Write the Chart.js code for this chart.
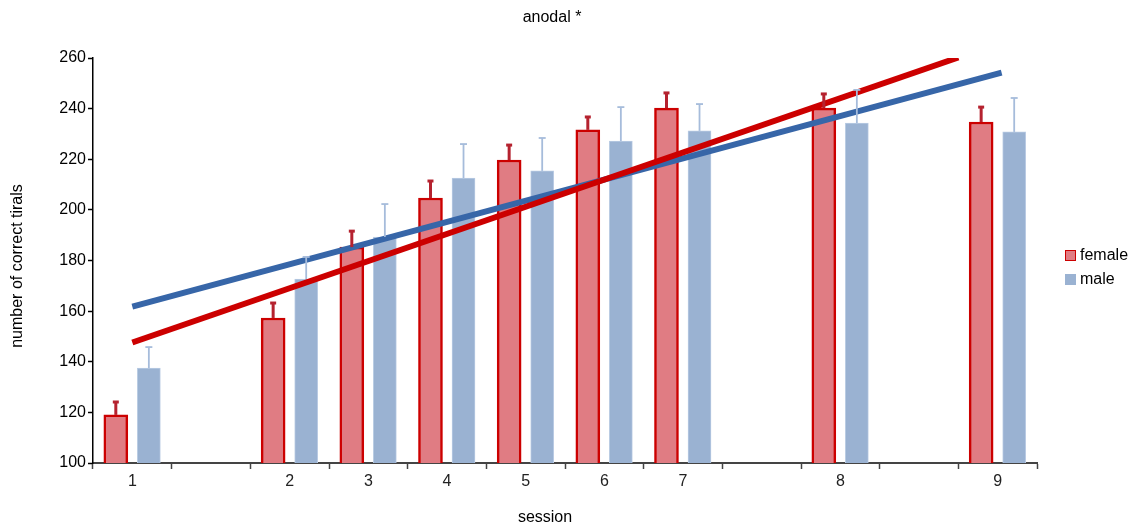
<!DOCTYPE html>
<html><head><meta charset="utf-8">
<script src="https://cdn.jsdelivr.net/npm/chart.js@4/dist/chart.umd.min.js"></script>
<style>html,body{margin:0;padding:0;background:#fff;}#wrap{width:1140px;height:529px;}</style>
</head><body><div id="wrap"><canvas id="c" width="1140" height="529"></canvas></div>
<script>
const categories = ["1","","2","3","4","5","6","7","","8","","9"];
const femaleMeans = [119, null, 157.3, 185.3, 204.7, 219.7, 231.6, 240.2, null, 240.2, null, 234.7];
const maleMeans   = [137.5, null, 172.7, 189.3, 212.6, 215.4, 227.2, 231.2, null, 234.3, null, 230.8];
const femaleErrTop = [124.1, null, 163.2, 191.6, 211.4, 225.6, 236.7, 246.2, null, 245.8, null, 240.6];
const maleErrTop   = [145.8, null, 181.4, 202.3, 226.0, 228.4, 240.6, 241.8, null, 247.4, null, 244.2];
const femaleTrend = [{x:0, y:147.6}, {x:10.5, y:260.2}];
const maleTrend   = [{x:0, y:161.8}, {x:11.05, y:254.2}];
const yTicks = [100,120,140,160,180,200,220,240,260];

const GROUP_SHIFT = 0.21;   // half distance between the two bars of a session, in slot units
const FONT = "'Liberation Sans', Arial, sans-serif";

const toPoints = (vals, shift) => vals.map((v, i) => v == null ? null : {x: i + shift, y: v}).filter(p => p);

const errPlugin = {
  id: 'errbars',
  afterDatasetsDraw(chart) {
    const ctx = chart.ctx, ys = chart.scales.y, xs = chart.scales.xt;
    const specs = [
      {vals: femaleMeans, tops: femaleErrTop, shift: -GROUP_SHIFT, color:'#b5222f', w:3, cap:6, capW:3},
      {vals: maleMeans, tops: maleErrTop, shift: GROUP_SHIFT, color:'#a6bcdb', w:1.8, cap:7, capW:1.8}
    ];
    ctx.save();
    specs.forEach(s => {
      s.vals.forEach((v, i) => {
        if (v == null || s.tops[i] == null) return;
        const x = xs.getPixelForValue(i + s.shift), y0 = ys.getPixelForValue(v), y1 = ys.getPixelForValue(s.tops[i]);
        ctx.strokeStyle = s.color; ctx.lineWidth = s.w;
        ctx.beginPath(); ctx.moveTo(x, y0); ctx.lineTo(x, y1); ctx.stroke();
        ctx.lineWidth = s.capW;
        ctx.beginPath(); ctx.moveTo(x - s.cap/2, y1); ctx.lineTo(x + s.cap/2, y1); ctx.stroke();
      });
    });
    ctx.restore();
  }
};

const textPlugin = {
  id: 'texts',
  afterDraw(chart) {
    const ctx = chart.ctx;
    ctx.save();
    ctx.fillStyle = '#000';
    ctx.font = '16px ' + FONT;
    ctx.textAlign = 'center'; ctx.textBaseline = 'middle';
    ctx.fillText('anodal *', 552, 18);
    ctx.fillText('session', 545, 518);
    ctx.save();
    ctx.translate(18, 266); ctx.rotate(-Math.PI/2);
    ctx.fillText('number of correct tirals', 0, 0);
    ctx.restore();
    ctx.textAlign = 'left';
    ctx.fillStyle = '#e07c83'; ctx.fillRect(1065.5, 250.5, 10, 10);
    ctx.strokeStyle = '#cc0000'; ctx.lineWidth = 1; ctx.strokeRect(1065.5, 250.5, 10, 10);
    ctx.fillStyle = '#9ab2d2'; ctx.fillRect(1065, 274, 11, 11);
    ctx.fillStyle = '#000';
    ctx.fillText('female', 1080, 256);
    ctx.fillText('male', 1080, 280);
    ctx.restore();
  }
};

new Chart(document.getElementById('c'), {
  data: {
    labels: categories,
    datasets: [
      {type:'bar', label:'female', data: toPoints(femaleMeans, -GROUP_SHIFT), xAxisID:'xt', grouped:false, barThickness:24, backgroundColor:'#e07c83', borderColor:'#cc0000', borderWidth:2.5, borderSkipped:'start', order:2},
      {type:'bar', label:'male', data: toPoints(maleMeans, GROUP_SHIFT), xAxisID:'xt', grouped:false, barThickness:23, backgroundColor:'#9ab2d2', borderColor:'#b9cbe3', borderWidth:1, borderSkipped:'start', order:2},
      {type:'line', label:'female trend', data: femaleTrend, xAxisID:'xt', borderColor:'#cc0000', borderWidth:6, pointRadius:0, fill:false, borderCapStyle:'butt', order:1},
      {type:'line', label:'male trend', data: maleTrend, xAxisID:'xt', borderColor:'#3766a8', borderWidth:6, pointRadius:0, fill:false, borderCapStyle:'butt', order:1}
    ]
  },
  options: {
    responsive:false, animation:false, devicePixelRatio:1,
    layout:{padding:{left:0, right:103, top:58, bottom:0}},
    plugins:{legend:{display:false}, title:{display:false}, tooltip:{enabled:false}},
    scales:{
      x:{type:'category', offset:true,
         grid:{offset:true, drawOnChartArea:false, drawTicks:true, tickLength:6, color:'#444', tickWidth:1.5},
         border:{display:true, color:'#444', width:2},
         ticks:{color:'#222', font:{family:FONT, size:16}, padding:3, autoSkip:false, maxRotation:0},
         afterFit(s){ s.height = 66; }
      },
      xt:{type:'linear', display:false, offset:false, min:-0.5, max:11.5},
      y:{type:'linear', min:100, max:260,
         afterBuildTicks(s){ s.ticks = yTicks.map(v => ({value:v})); },
         grid:{drawOnChartArea:false, drawTicks:true, tickLength:5, color:'#000', tickWidth:1.5},
         border:{display:true, color:'#000', width:1.5},
         ticks:{color:'#000', font:{family:FONT, size:16}, padding:2},
         afterFit(s){ s.width = 93; }
      }
    }
  },
  plugins:[errPlugin, textPlugin]
});
</script></body></html>
